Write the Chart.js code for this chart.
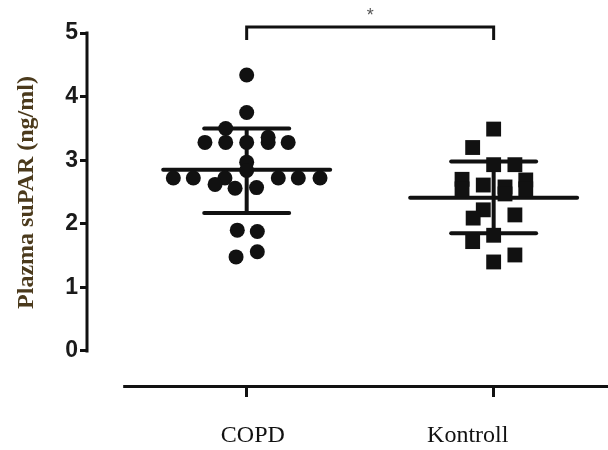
<!DOCTYPE html>
<html>
<head>
<meta charset="utf-8">
<script src="https://cdn.jsdelivr.net/npm/chart.js@4/dist/chart.umd.min.js"></script>
<style>
    html, body { margin: 0; padding: 0; background: #fff; }
    #wrap { width: 608px; height: 450px; }
</style>
</head>
<body>
<div id="wrap"><canvas id="suparChart"></canvas></div>
<script>
// group names and where they sit on the x scale
const groups = ['COPD', 'Kontroll'];
const groupX = [1, 2];
const labelX = [1.025, 1.895];
const yTicks = [0, 1, 2, 3, 4, 5];

// individual measurements (ng/ml) and their horizontal scatter
const copdValues = [4.34, 3.75, 3.50, 3.28, 3.28, 3.28, 3.28, 3.28, 3.36, 2.97, 2.84,
    2.72, 2.72, 2.72, 2.72, 2.72, 2.72, 2.62, 2.56, 2.57, 1.90, 1.88, 1.48, 1.56];
const copdJitter = [0, 0, -0.085, -0.169, -0.085, 0, 0.087, 0.168, 0.087, 0, 0,
    -0.297, -0.216, -0.088, 0.128, 0.209, 0.297, -0.128, -0.047, 0.040, -0.038, 0.043, -0.043, 0.043];
const kontrollValues = [3.49, 3.20, 2.93, 2.93, 2.70, 2.55, 2.69, 2.55, 2.61, 2.58, 2.47,
    2.14, 2.22, 2.09, 1.72, 1.82, 1.40, 1.51];
const kontrollJitter = [0, -0.085, 0, 0.086, -0.128, -0.128, 0.13, 0.13, -0.042, 0.046, 0.046,
    0.086, -0.042, -0.083, -0.085, 0, 0, 0.086];

// mean +/- SD per group
const means = [2.85, 2.41];
const sdUpper = [3.50, 2.98];
const sdLower = [2.17, 1.85];
const meanHalfWidth = 0.338;
const sdHalfWidth = 0.172;

// significance bracket
const bracketX = [1, 1, 2, 2];
const bracketY = [4.89, 5.095, 5.095, 4.89];
const starLabel = '*';
const starX = 1.5;
const starY = 5.27;

const axisStartX = 0.5;
const xMin = 0.3575;
const xMax = 2.463;

const ink = '#111';

function segment(points, width, cap) {
    return {
        data: points,
        showLine: true,
        borderColor: ink,
        borderWidth: width,
        borderCapStyle: cap || 'round',
        pointRadius: 0,
        pointHoverRadius: 0,
        fill: false
    };
}

const datasets = [
    {
        label: groups[0],
        data: copdValues.map((v, i) => ({ x: groupX[0] + copdJitter[i], y: v })),
        pointStyle: 'circle',
        pointRadius: 7.5,
        pointBorderWidth: 0,
        backgroundColor: ink
    },
    {
        label: groups[1],
        data: kontrollValues.map((v, i) => ({ x: groupX[1] + kontrollJitter[i], y: v })),
        pointStyle: 'rect',
        pointRadius: 10.5,
        pointBorderWidth: 0,
        backgroundColor: ink
    }
];

groupX.forEach((gx, i) => {
    datasets.push(segment([{ x: gx - meanHalfWidth, y: means[i] }, { x: gx + meanHalfWidth, y: means[i] }], 4));
    datasets.push(segment([{ x: gx - sdHalfWidth, y: sdUpper[i] }, { x: gx + sdHalfWidth, y: sdUpper[i] }], 4));
    datasets.push(segment([{ x: gx - sdHalfWidth, y: sdLower[i] }, { x: gx + sdHalfWidth, y: sdLower[i] }], 4));
    datasets.push(segment([{ x: gx, y: sdLower[i] }, { x: gx, y: sdUpper[i] }], 4, 'butt'));
});

const bracket = segment(bracketX.map((x, i) => ({ x, y: bracketY[i] })), 3, 'butt');
bracket.borderJoinStyle = 'miter';
datasets.push(bracket);

// y axis stops at 5 and x axis starts right of the y axis (Prism style)
const axisLines = {
    id: 'axisLines',
    afterDraw(chart) {
        const { ctx, chartArea, scales } = chart;
        const x = scales.x;
        const y = scales.y;
        ctx.save();
        ctx.strokeStyle = ink;
        ctx.lineWidth = 3;
        ctx.beginPath();
        ctx.moveTo(chartArea.left - 1, y.getPixelForValue(yTicks[yTicks.length - 1]) - 1.5);
        ctx.lineTo(chartArea.left - 1, y.getPixelForValue(yTicks[0]) + 1.5);
        ctx.moveTo(x.getPixelForValue(axisStartX), chartArea.bottom + 1.5);
        ctx.lineTo(chartArea.right, chartArea.bottom + 1.5);
        ctx.stroke();

        ctx.fillStyle = '#555';
        ctx.font = '18px "Liberation Sans"';
        ctx.textAlign = 'center';
        ctx.textBaseline = 'middle';
        ctx.fillText(starLabel, x.getPixelForValue(starX), y.getPixelForValue(starY));
        ctx.restore();
    }
};

new Chart(document.getElementById('suparChart'), {
    type: 'scatter',
    data: { datasets },
    options: {
        responsive: true,
        maintainAspectRatio: false,
        animation: false,
        layout: { autoPadding: false, padding: { left: 8, right: 0, top: 0, bottom: 0 } },
        plugins: {
            legend: { display: false },
            tooltip: { enabled: false }
        },
        scales: {
            x: {
                type: 'linear',
                position: 'bottom',
                min: xMin,
                max: xMax,
                afterBuildTicks: s => { s.ticks = groupX.map(v => ({ value: v })); },
                afterFit: s => { s.height = 12; s.paddingLeft = 0; s.paddingRight = 0; },
                border: { display: false },
                grid: { drawOnChartArea: false, drawTicks: true, tickLength: 12, lineWidth: 3, color: ink },
                ticks: { display: false }
            },
            xLabels: {
                type: 'linear',
                position: 'bottom',
                weight: 1,
                min: xMin,
                max: xMax,
                afterBuildTicks: s => { s.ticks = labelX.map(v => ({ value: v })); },
                afterFit: s => { s.height = 53; s.paddingLeft = 0; s.paddingRight = 0; },
                border: { display: false },
                grid: { display: false, drawTicks: false },
                ticks: {
                    padding: 24,
                    autoSkip: false,
                    maxRotation: 0,
                    color: '#111',
                    font: { family: 'Liberation Serif', size: 24 },
                    callback: (v, i) => groups[i]
                }
            },
            y: {
                min: -0.535,
                max: 5.52,
                afterBuildTicks: s => { s.ticks = yTicks.map(v => ({ value: v })); },
                afterFit: s => { s.width = 80; s.paddingTop = 0; s.paddingBottom = 0; },
                border: { display: false },
                grid: { drawOnChartArea: false, drawTicks: true, tickLength: 8, lineWidth: 3, color: ink },
                ticks: {
                    padding: 2,
                    color: '#1a1a1a',
                    font: { family: 'Liberation Sans', size: 23, weight: 'bold' }
                },
                title: {
                    display: true,
                    text: 'Plazma suPAR (ng/ml)',
                    color: '#4b3a1c',
                    font: { family: 'Liberation Serif', size: 24, weight: 'bold' },
                    padding: { top: 4, bottom: 4 }
                }
            }
        }
    },
    plugins: [axisLines]
});
</script>
</body>
</html>
